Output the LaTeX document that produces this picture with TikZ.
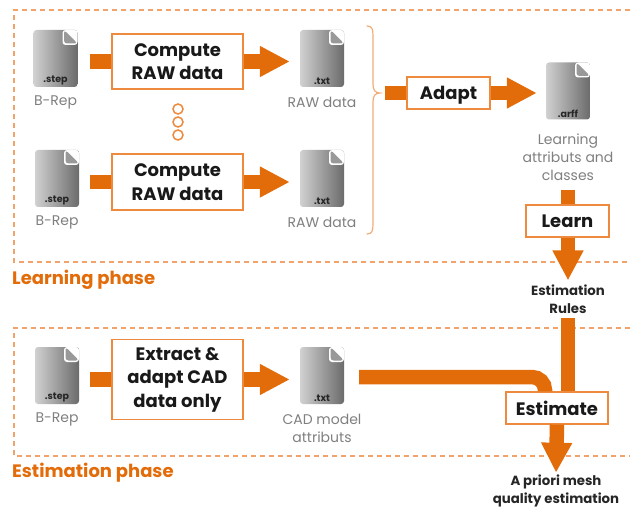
\documentclass[tikz,border=0pt]{standalone}
\usepackage{fontspec}
\setmainfont{Poppins}
\usetikzlibrary{arrows.meta}
\definecolor{flow}{HTML}{E36C0A}
\definecolor{edge}{HTML}{ED8A3E}
\definecolor{dash}{HTML}{F2A36B}
\definecolor{caption}{HTML}{7F7F7F}
\begin{document}
\begin{tikzpicture}[x=1pt,y=-1pt,node distance=44pt,
    file/.style={rectangle,rounded corners=3pt,inner sep=0pt,minimum width=44pt,minimum height=57pt,
      left color=black!18,right color=black!58,
      path picture={
        \fill[white] ([xshift=-15pt]path picture bounding box.north east) rectangle ([yshift=-15pt]path picture bounding box.north east);
        \fill[black!40] ([xshift=-13.5pt]path picture bounding box.north east) -- ([xshift=-13.5pt,yshift=-13.5pt]path picture bounding box.north east) -- ([yshift=-13.5pt]path picture bounding box.north east) -- cycle;
        \node[minimum width=0pt,minimum height=0pt,font=\fontsize{9.5}{10}\selectfont\bfseries,text=black!85,anchor=south] at ([yshift=2pt]path picture bounding box.south) {#1};}},
    box node/.style={rectangle,draw=edge,line width=1.2pt,fill=white,inner sep=0pt,align=center,
      font=\fontsize{18}{23.5}\selectfont\bfseries,text=black!90},
    grey label/.style={font=\fontsize{14}{18}\selectfont,text=caption,align=center,inner sep=0pt},
    dark label/.style={font=\fontsize{13.3}{18}\selectfont\bfseries,text=black!85,align=center,inner sep=0pt},
    phase label/.style={font=\fontsize{18}{20}\selectfont\bfseries,text=flow,anchor=west,inner sep=0pt},
    pipe/.style={draw=flow,line width=14.5pt},
    block/.style={pipe,-{Triangle[length=30pt,width=29pt]}},
    frame/.style={draw=dash,line width=1.2pt,dash pattern=on 5pt off 4pt}]
  \useasboundingbox (0,0) rectangle (630,508);
  % phases
  \draw[frame] (630,10) -- (14,10) -- (14,262) -- (630,262);
  \draw[frame] (630,328) -- (14,328) -- (14,456) -- (630,456);
  \node[phase label] (learning) at (12,279.5) {Learning phase};
  \node[phase label] (estimation) at (12,472.5) {Estimation phase};
  % files
  \node[file=.step] (step1) at (55.5,58.5) {};
  \node[file=.step] (step2) at (57,178.5) {};
  \node[file=.step] (step3) at (57,375.5) {};
  \node[file=.txt] (txt1) at (322,58.5) {};
  \node[file=.txt] (txt2) at (322,178.5) {};
  \node[file=.txt] (txt3) at (322,375.5) {};
  \node[file=.arff] (arff) at (568,91) {};
  \node[grey label] (rep1) [below of=step1] {B-Rep};
  \node[grey label] (rep2) [below of=step2] {B-Rep};
  \node[grey label] (rep3) [below of=step3] {B-Rep};
  \node[grey label] (raw1) [below of=txt1] {RAW data};
  \node[grey label] (raw2) [below of=txt2] {RAW data};
  \node[grey label] (cad) [below of=txt3,node distance=52.5pt] {CAD model\\attributs};
  \node[grey label] (attr) [below of=arff,node distance=66pt] {Learning\\attributs and\\classes};
  % process boxes
  \node[box node,minimum width=131pt,minimum height=55pt] (comp1) at (177.5,61.5) {Compute\\RAW data};
  \node[box node,minimum width=131pt,minimum height=56pt] (comp2) at (177.5,182) {Compute\\RAW data};
  \node[box node,minimum width=131pt,minimum height=80pt] (extract) at (177.5,379.5) {Extract \&\\adapt CAD\\data only};
  \node[box node,minimum width=83pt,minimum height=32pt,text depth=0pt] (adapt) at (448.5,93) {Adapt};
  \node[box node,minimum width=83pt,minimum height=32pt] (learn) at (567.5,221) {Learn};
  \node[box node,minimum width=102pt,minimum height=32pt] (estimate) at (557,408) {Estimate};
  \node[dark label] (rules) at (568,299) {Estimation\\Rules};
  \node[dark label] (goal) at (556,491) {A priori mesh\\quality estimation};
  % dots
  \foreach \y/\name in {109/dot1,122/dot2,135/dot3}
    \node[circle,draw=edge,line width=1.5pt,minimum size=10pt,inner sep=0pt] (\name) at (178,\y) {};
  % brace
  \coordinate (tip) at (380,93);
  \draw[edge!70,line width=1.2pt,line cap=round] (367,26) .. controls (372,26) and (373,29) .. (373,36)
    -- (373,84) .. controls (373,90) and (375,93) .. (tip) .. controls (375,93) and (373,96) .. (373,102)
    -- (373,224) .. controls (373,231) and (372,234) .. (367,234);
  % connectors
  \draw[pipe] (comp1.west -| step1.east) ++(12,0) -- (comp1.west);
  \draw[pipe] (comp2.west -| step2.east) ++(11,0) -- (comp2.west);
  \draw[pipe] (extract.west -| step3.east) ++(11,0) -- (extract.west);
  \draw[block,shorten >=10pt] (comp1.east) -- (comp1.east -| txt1.west);
  \draw[block,shorten >=10pt] (comp2.east) -- (comp2.east -| txt2.west);
  \draw[block,shorten >=10pt] (extract.east) -- (extract.east -| txt3.west);
  \draw[pipe,shorten <=5pt] (tip) -- (adapt.west);
  \draw[block,shorten >=9pt] (adapt.east) -- (adapt.east -| arff.west);
  \coordinate (stub) at (568,190);
  \draw[pipe] (stub) -- (stub |- learn.north);
  \draw[block,shorten >=4pt] (learn.south -| rules.north) -- (rules.north);
  \coordinate (trunk) at (568,318);
  \draw[pipe] (trunk) -- (trunk |- estimate.north);
  \coordinate (bend) at (545,377);
  \draw[pipe,rounded corners=13pt,shorten <=15pt] (txt3.east |- bend) -- (bend) -- (bend |- estimate.north);
  \draw[block,shorten >=2pt] (estimate.south) -- (goal.north);
\end{tikzpicture}
\end{document}
